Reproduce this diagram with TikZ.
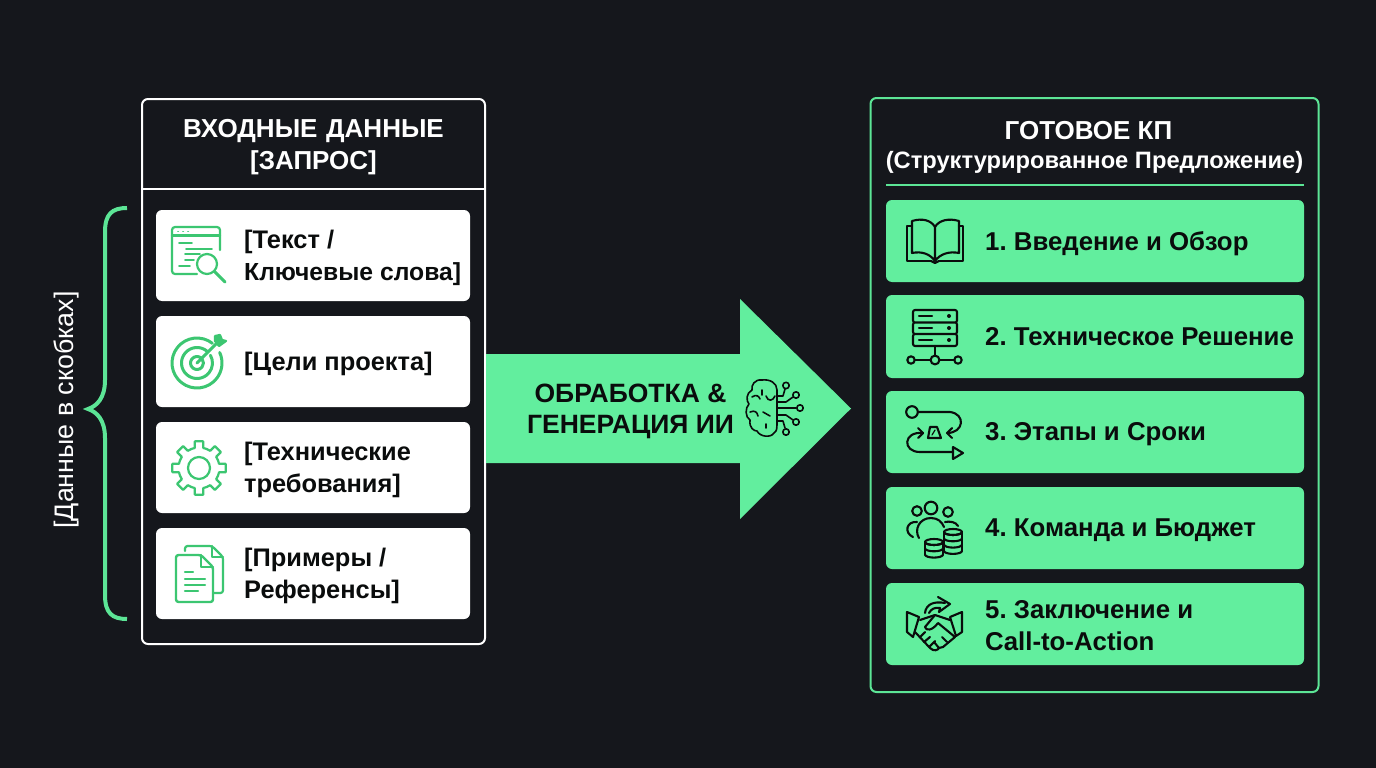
\documentclass[tikz,border=0pt]{standalone}
\usepackage{fontspec}
\usetikzlibrary{calc}
\setmainfont{Liberation Sans}
\frenchspacing
\definecolor{bg}{HTML}{15171C}
\definecolor{mint}{HTML}{62EE9E}
\definecolor{edge}{HTML}{5CE596}
\definecolor{icong}{HTML}{3CC671}
\definecolor{ink}{HTML}{0A0C0C}
\tikzset{
  outerleft/.style={draw=white,line width=2pt,rounded corners=6pt},
  outerright/.style={draw=edge,line width=2pt,rounded corners=6pt},
  cardw/.style={fill=white,rounded corners=6pt},
  cardg/.style={fill=mint,rounded corners=6pt},
  txt/.style={font=\bfseries\fontsize{25.4}{32}\selectfont,align=left,anchor=west,text=ink,inner sep=0pt},
  rtxt/.style={txt,font=\bfseries\fontsize{25.8}{32}\selectfont},
  head/.style={font=\bfseries\fontsize{26}{32}\selectfont,align=center,text=white,inner sep=0pt},
  ig/.style={draw=icong,line width=2.2pt,line cap=round,line join=round},
  ik/.style={draw=ink,line width=2.1pt,line cap=round,line join=round},
}
\begin{document}
\begin{tikzpicture}[x=1pt,y=-1pt]
\useasboundingbox[fill=bg] (0,0) rectangle (1376,768);
% left panel
\node (lbox) [outerleft,minimum width=343pt,minimum height=545pt,inner sep=0pt] at (313.5,371.5) {};
\coordinate (hl) at (142.5,189);
\coordinate (hr) at (484.5,189);
\draw[draw=white,line width=2pt] (hl) -- (hr);
\node (lhead) [head,text width=330pt] at (313.5,147) {ВХОДНЫЕ ДАННЫЕ\\{[ЗАПРОС]}};
\foreach \n/\y/\h in {c1/210/91,c2/316/91,c3/422/91,c4/528/91}{
  \node (\n) [cardw,minimum width=314pt,minimum height=\h pt,inner sep=0pt] at (313,\y+\h/2) {};
}
\node (t1) [txt] at (244,257.5) {{[}Текст /\\{\fontsize{24.7}{32}\selectfont Ключевые слова{]}}};
\node (t2) [txt] at (244,364) {{[}Цели проекта{]}};
\node (t3) [txt] at (244,470) {{[}Технические\\требования{]}};
\node (t4) [txt] at (244,575.5) {{[}Примеры /\\Референсы{]}};
% icon: window + magnifier
\draw[ig,rounded corners=3pt] (197,274) -- (172,274) -- (172,227) -- (220,227) -- (220,250);
\draw[ig] (172,235.5) -- (220,235.5);
\draw[ig,line width=1.6pt] (178,231.5) -- (178.3,231.5) (183,231.5) -- (183.3,231.5) (188,231.5) -- (188.3,231.5);
\draw[ig,line width=1.8pt] (179,243) -- (192,243) (186,249) -- (212,249) (185,254) -- (200,254) (185,260) -- (194,260) (179,266) -- (190,266);
\draw[ig] (207,264) circle[radius=10pt];
\draw[ig,line width=3pt] (214.5,271.5) -- (225,282);
% icon: target
\coordinate (tc) at (197,363);
\draw[ig,line width=3pt] (tc) ++(52:25pt) arc[start angle=52,end angle=385,radius=25pt];
\draw[ig,line width=3pt] (tc) ++(50:15.5pt) arc[start angle=50,end angle=390,radius=15.5pt];
\draw[ig,line width=3pt] (tc) ++(50:6.5pt) arc[start angle=50,end angle=400,radius=6.5pt];
\draw[ig,line width=3pt] (tc) -- (217,343);
\draw[ig,fill=icong] (215,341) -- (215,336) -- (220,335) -- (222,340) -- (226,341) -- (219,346) -- cycle;
% icon: gear
\coordinate (gc) at (199,468);
\foreach \a in {0,45,...,315}{
  \draw[ig] (gc) ++(\a-22.5:20.5pt) arc[start angle=\a-22.5,end angle=\a-12,radius=20.5pt] -- ($(gc)+(\a-9:27pt)$) -- ($(gc)+(\a+9:27pt)$) -- ($(gc)+(\a+12:20.5pt)$) arc[start angle=\a+12,end angle=\a+22.5,radius=20.5pt];
}
\draw[ig] (gc) circle[radius=11pt];
% icon: documents
\draw[ig,rounded corners=2.5pt] (185,551) -- (185,546) -- (212,546) -- (223,557) -- (223,593) -- (214,593);
\draw[ig] (212,546) -- (212,557) -- (223,557);
\draw[ig,line width=2.4pt,rounded corners=2.5pt] (190,602) -- (176,602) -- (176,555) -- (201,555) -- (213,567) -- (213,602) -- cycle;
\draw[ig] (201,555) -- (201,567) -- (213,567);
\draw[ig] (185,572) -- (193,572) (185,579) -- (205,579) (185,585) -- (205,585) (185,591) -- (198,591);
% brace
\coordinate (ba) at (127,208);
\coordinate (bb) at (88,409);
\coordinate (bc) at (127,619);
\draw[draw=edge,line width=4pt,line cap=butt] (ba) .. controls (112,208) and (105,214) .. (105,232) -- (105,380) .. controls (105,398) and (97,406) .. (bb) .. controls (97,412) and (105,420) .. (105,438) -- (105,595) .. controls (105,613) and (112,619) .. (bc);
\node (blab) [rotate=90,text=white,inner sep=0pt,font=\fontsize{26.8}{30}\selectfont] at (66,410) {{[}Данные в скобках{]}};
% arrow
\fill[mint] (486,354) -- (740,354) -- (740,299) -- (851,408.5) -- (740,519) -- (740,463) -- (486,463) -- cycle;
\node (arrowtext) [font=\bfseries\fontsize{26.5}{31}\selectfont,align=center,text=ink,inner sep=0pt] at (630.5,411) {ОБРАБОТКА \&\\ГЕНЕРАЦИЯ ИИ};
% brain icon
\begin{scope}[ik,line width=1.6pt]
\draw (762,380) .. controls (755,379) and (751,385) .. (752,390) .. controls (746,393) and (746,401) .. (749,404) .. controls (745,408) and (745,417) .. (750,420) .. controls (749,428) and (754,431) .. (757,431) .. controls (760,437) and (771,438) .. (774,433) .. controls (777,431) and (777,428) .. (777,425) -- (777,390) .. controls (777,383) and (770,379) .. (762,380);
\draw (752,397) .. controls (756,394) and (759,396) .. (760,399) (750,412) .. controls (755,410) and (757,412) .. (758,416) (766,396) .. controls (768,402) and (773,401) .. (775,396) (763,412) -- (770,416) (766,428) -- (766,424) (762,395) -- (762,390);
\draw (777,396) -- (783,396) -- (785,389) (777,402) -- (786,402) -- (793,397) (777,408) -- (796,408) (777,415) -- (786,415) -- (793,420) (777,421) -- (783,421) -- (785,428);
\draw (786,385.5) circle[radius=3.2pt] (796,395) circle[radius=3.2pt] (800,408) circle[radius=3.2pt] (796,422) circle[radius=3.2pt] (786,432) circle[radius=3.2pt];
\end{scope}
% right panel
\node (rbox) [outerright,minimum width=448pt,minimum height=594pt,inner sep=0pt] at (1094.5,395) {};
\node (rh1) [head] at (1088.5,131) {ГОТОВОЕ КП};
\node (rh2) [head,font=\bfseries\fontsize{23.7}{28}\selectfont] at (1094.5,162.5) {(Структурированное Предложение)};
\coordinate (rl) at (886,185);
\coordinate (rr) at (1304,185);
\draw[draw=edge,line width=2.5pt] (rl) -- (rr);
\foreach \n/\y/\h in {r1/200/82,r2/295/83,r3/391/82,r4/487/82,r5/583/82}{
  \node (\n) [cardg,minimum width=418pt,minimum height=\h pt,inner sep=0pt] at (1095,\y+\h/2) {};
}
\node (rt1) [rtxt] at (985,243.5) {1. Введение и Обзор};
\node (rt2) [rtxt] at (985,337) {2. Техническое Решение};
\node (rt3) [rtxt] at (985,434.5) {3. Этапы и Сроки};
\node (rt4) [rtxt] at (985,530.5) {4. Команда и Бюджет};
\node (rt5) [rtxt] at (985,625.5) {5. Заключение и\\Call-to-Action};
\begin{scope}[ik]
% book
\draw (935,261) .. controls (930,254) and (922,251) .. (912,253) -- (912,221) .. controls (922,218) and (931,220) .. (935,227) .. controls (939,220) and (949,218) .. (959,221) -- (959,253) .. controls (949,251) and (940,254) .. (935,261) -- (935,227);
\draw (912,226) -- (907,226) -- (907,261) -- (931,261) (959,226) -- (963,226) -- (963,261) -- (939,261);
\draw (931,261) -- (935,263) -- (939,261);
% server
\draw[rounded corners=2pt] (913,310) rectangle (957,322.5) (913,322.5) rectangle (957,334) (913,334) rectangle (957,346);
\draw (919,316) -- (932,316) (919,328) -- (932,328) (919,340) -- (932,340);
\fill[ink] (949,316) circle[radius=2pt] (949,328) circle[radius=2pt] (949,340) circle[radius=2pt];
\draw (935,346) -- (935,356) (915,360) -- (930,360) (940,360) -- (954,360);
\draw (911,360) circle[radius=3.7pt] (935,360) circle[radius=4.4pt] (958,360) circle[radius=3.7pt];
% flow
\draw (912,412) circle[radius=5.8pt];
\draw (918,412) -- (950,412) .. controls (966,414) and (964,433) .. (947,433);
\draw (952,428) -- (947,433) -- (952,438);
\draw (923,433) .. controls (903,431) and (902,452) .. (920,452) -- (952,452);
\draw (918,428) -- (923,433) -- (918,438);
\draw (953,447) -- (953,459) -- (963,453) -- cycle;
\draw (928,438) -- (930,427) -- (937,427) -- (941,438) -- cycle;
\draw[line width=1.2pt] (932,435) -- (935,430);
% team + coins
\draw (917,511) circle[radius=4.8pt] (931,508) circle[radius=6.3pt] (948,512) circle[radius=4.8pt];
\draw (919,538) .. controls (914,530) and (919,518) .. (931,518) .. controls (938,518) and (942,522) .. (944,527);
\draw (913,537) .. controls (904,533) and (906,521) .. (917,522) (945,522) .. controls (950,521) and (956,522) .. (958,526);
\foreach \cx/\cy/\k in {934/542/3,953/532/4}{
 \foreach \i in {1,...,\k}{
  \draw (\cx-9,\cy+\i*6.3-6.3) arc[start angle=180,end angle=360,x radius=9pt,y radius=3pt];
 }
 \draw (\cx,\cy) ellipse[x radius=9pt,y radius=3pt];
 \draw (\cx-9,\cy) -- (\cx-9,\cy+\k*6.3-6.3) (\cx+9,\cy) -- (\cx+9,\cy+\k*6.3-6.3);
}
% handshake
\draw (907,612) -- (919,617) -- (913,637) -- (907,632) -- cycle;
\draw (962,612) -- (950,617) -- (956,636) -- (962,632) -- cycle;
\draw (920,620) -- (935,615) -- (950,620);
\draw (935,615) -- (925,627) .. controls (926,631) and (932,631) .. (938,623) -- (955,637);
\draw (915,632) -- (930,648) .. controls (934,652) and (938,650) .. (939,648) -- (943,647) -- (955,637);
\draw (920,637) -- (925,632) (924,642) -- (930,637) (929,647) -- (935,641) (939,648) -- (934,642) (947,642) -- (942,637);
\draw (925,613) .. controls (926,604) and (934,601) .. (945,603);
\draw (938,597) -- (950,604) -- (939,612) -- (940,608) .. controls (935,607) and (931,609) .. (929,613);
\end{scope}
\end{tikzpicture}
\end{document}
